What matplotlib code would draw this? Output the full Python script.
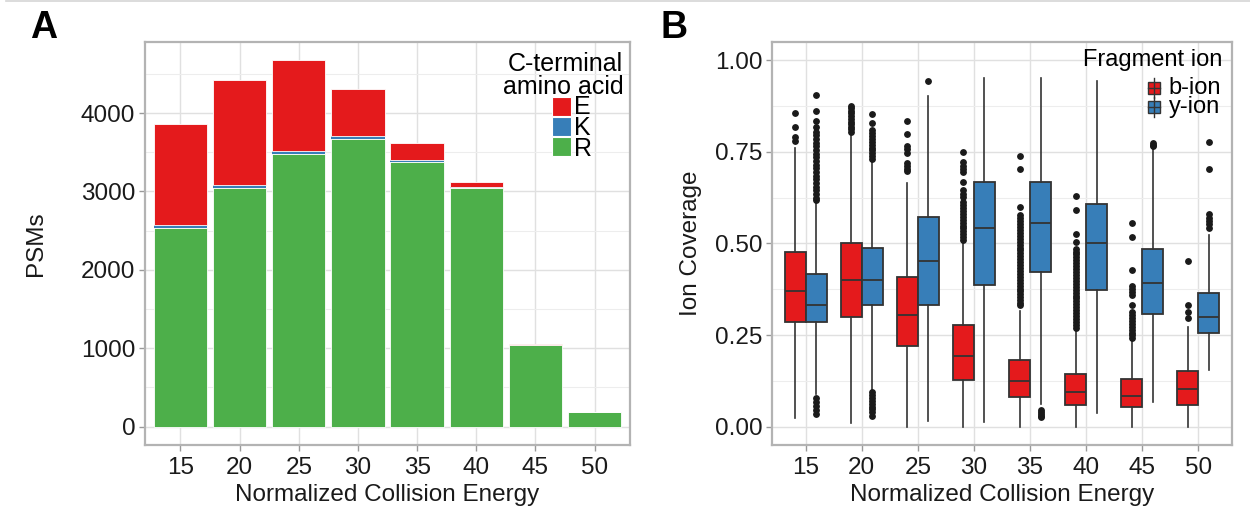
import matplotlib

matplotlib.use("Agg")

import matplotlib.pyplot as plt
from matplotlib.lines import Line2D
from matplotlib.patches import Rectangle

plt.rcParams["font.family"] = ["Liberation Sans", "DejaVu Sans"]

energies = [15, 20, 25, 30, 35, 40, 45, 50]

# panel A: PSM counts by C-terminal residue
psm_R = [2540, 3039, 3475, 3674, 3382, 3050, 1046, 190]
psm_K = [30, 47, 38, 34, 25, 6, 2, 0]
psm_E = [1286, 1333, 1160, 601, 208, 59, 10, 0]

# panel B: ion coverage box stats
b_q1 = [0.285, 0.299, 0.221, 0.127, 0.082, 0.059, 0.053, 0.060]
b_med = [0.370, 0.400, 0.305, 0.192, 0.125, 0.095, 0.083, 0.102]
b_q3 = [0.476, 0.500, 0.409, 0.278, 0.182, 0.143, 0.129, 0.151]
b_lo = [0.023, 0.011, 0.0, 0.0, 0.0, 0.0, 0.0, 0.0]
b_hi = [0.761, 0.800, 0.666, 0.500, 0.316, 0.260, 0.233, 0.271]
b_out = [
    [0.857, 0.817, 0.792, 0.779],
    [0.805, 0.812, 0.818, 0.825, 0.832, 0.840, 0.848, 0.855, 0.862, 0.870, 0.876],
    [0.833, 0.799, 0.767, 0.758, 0.748, 0.720, 0.712, 0.704, 0.697],
    [0.749, 0.722, 0.712, 0.702, 0.695, 0.668, 0.645, 0.636, 0.627, 0.613, 0.605,
     0.597, 0.589, 0.581, 0.573, 0.565, 0.557, 0.549, 0.541, 0.533, 0.525, 0.517, 0.509],
    [0.740, 0.704, 0.600, 0.577, 0.569, 0.561, 0.553, 0.545, 0.537, 0.529, 0.521,
     0.513, 0.505, 0.497, 0.489, 0.481, 0.473, 0.465, 0.457, 0.449, 0.441, 0.433,
     0.425, 0.417, 0.409, 0.401, 0.393, 0.385, 0.377, 0.369, 0.361, 0.353, 0.345,
     0.338, 0.332],
    [0.630, 0.592, 0.525, 0.505, 0.486, 0.478, 0.470, 0.462, 0.454, 0.446, 0.438,
     0.430, 0.422, 0.414, 0.406, 0.398, 0.390, 0.382, 0.374, 0.366, 0.358, 0.350,
     0.342, 0.334, 0.326, 0.318, 0.310, 0.302, 0.294, 0.286, 0.278, 0.270],
    [0.556, 0.518, 0.429, 0.384, 0.376, 0.368, 0.360, 0.332, 0.312, 0.304, 0.296,
     0.288, 0.280, 0.272, 0.264, 0.256, 0.249, 0.243],
    [0.453, 0.332, 0.314, 0.296],
]

y_q1 = [0.285, 0.332, 0.332, 0.388, 0.421, 0.374, 0.307, 0.255]
y_med = [0.332, 0.400, 0.453, 0.542, 0.556, 0.500, 0.391, 0.299]
y_q3 = [0.416, 0.489, 0.572, 0.667, 0.667, 0.607, 0.486, 0.364]
y_lo = [0.090, 0.097, 0.015, 0.014, 0.061, 0.038, 0.067, 0.154]
y_hi = [0.610, 0.725, 0.903, 0.951, 0.951, 0.944, 0.760, 0.523]
y_out = [
    [0.905, 0.861, 0.833, 0.817, 0.805, 0.795, 0.785, 0.775, 0.765, 0.755, 0.745,
     0.735, 0.725, 0.715, 0.705, 0.695, 0.685, 0.675, 0.665, 0.655, 0.645, 0.635,
     0.625, 0.618, 0.079, 0.068, 0.057, 0.046, 0.034],
    [0.853, 0.830, 0.810, 0.802, 0.794, 0.786, 0.778, 0.770, 0.762, 0.754, 0.746,
     0.738, 0.731, 0.095, 0.087, 0.079, 0.071, 0.063, 0.055, 0.047, 0.039, 0.029],
    [0.944],
    [],
    [0.045, 0.040, 0.035, 0.030, 0.026],
    [],
    [0.765, 0.770, 0.775],
    [0.543, 0.552, 0.561, 0.570, 0.580, 0.704, 0.778],
]

RED = "#E41A1C"
BLUE = "#377EB8"
GREEN = "#4DAF4A"
BORDER = "#B3B3B3"
GRID = "#E0E0E0"
TXT = "#1A1A1A"
FS = 17.5


def style_axes(ax):
    ax.set_facecolor("white")
    ax.set_axisbelow(True)
    ax.grid(which="major", color=GRID, linewidth=1.0)
    ax.grid(which="minor", axis="y", color="#EDEDED", linewidth=0.8)
    for s in ax.spines.values():
        s.set_color(BORDER)
        s.set_linewidth(1.6)
    ax.tick_params(which="major", length=4, width=1.0, color="#999999",
                   labelsize=FS, labelcolor=TXT, pad=3)
    ax.tick_params(which="minor", length=0)
    ax.tick_params(axis="x", pad=5)


fig = plt.figure(figsize=(12.5, 5.19), dpi=100, facecolor="white")
ax1 = fig.add_axes([0.116, 0.1426, 0.388, 0.7765])
ax2 = fig.add_axes([0.6176, 0.1426, 0.368, 0.7765])

# ---- panel A
pos = list(range(1, len(energies) + 1))
bottom_K = psm_R
bottom_E = [r + k for r, k in zip(psm_R, psm_K)]
totals = [e + b for e, b in zip(psm_E, bottom_E)]
ax1.bar(pos, psm_R, width=0.9, color=GREEN, edgecolor="white", linewidth=0.6)
ax1.bar(pos, psm_K, width=0.9, bottom=bottom_K, color=BLUE, edgecolor="none")
ax1.bar(pos, psm_E, width=0.9, bottom=bottom_E, color=RED, edgecolor="white", linewidth=0.6)
style_axes(ax1)
ax1.set_xlim(0.4, len(energies) + 0.6)
ax1.set_ylim(-0.05 * max(totals), 1.05 * max(totals))
ax1.set_xticks(pos)
ax1.set_xticklabels([str(e) for e in energies])
ax1.set_yticks([0, 1000, 2000, 3000, 4000])
ax1.set_yticks([500, 1500, 2500, 3500, 4500], minor=True)
ax1.set_xlabel("Normalized Collision Energy", fontsize=FS, color=TXT, labelpad=3)
ax1.set_ylabel("PSMs", fontsize=FS, color=TXT)
ax1.yaxis.set_label_coords(-0.203, 0.5)

# legend drawn by hand (ggplot-style, title right-aligned)
ax1.text(0.986, 0.975, "C-terminal\namino acid", transform=ax1.transAxes, ha="right",
         va="top", multialignment="right", linespacing=0.93, fontsize=18, color="black")
for col, y0 in [(RED, 0.816), (BLUE, 0.766), (GREEN, 0.716)]:
    ax1.add_patch(Rectangle((0.839, y0), 0.039, 0.047, transform=ax1.transAxes,
                            facecolor=col, edgecolor="white", linewidth=0.8, clip_on=False))
ax1.text(0.885, 0.8685, "E\nK\nR", transform=ax1.transAxes, ha="left", va="top",
         linespacing=0.85, fontsize=18, color="black")

# ---- panel B
box_w = 0.375
stats_b = []
stats_y = []
for i in range(len(energies)):
    stats_b.append(dict(q1=b_q1[i], med=b_med[i], q3=b_q3[i], whislo=b_lo[i],
                        whishi=b_hi[i], fliers=b_out[i]))
    stats_y.append(dict(q1=y_q1[i], med=y_med[i], q3=y_q3[i], whislo=y_lo[i],
                        whishi=y_hi[i], fliers=y_out[i]))

for stats, col, off in [(stats_b, RED, -box_w / 2), (stats_y, BLUE, box_w / 2)]:
    ax2.bxp(
        stats,
        positions=[p + off for p in pos],
        widths=box_w,
        patch_artist=True,
        showcaps=False,
        manage_ticks=False,
        boxprops=dict(facecolor=col, edgecolor="#333333", linewidth=1.3),
        medianprops=dict(color="#333333", linewidth=1.3),
        whiskerprops=dict(color="#333333", linewidth=1.2),
        flierprops=dict(marker="o", markersize=3.9, markerfacecolor="#1A1A1A",
                        markeredgecolor="#1A1A1A", linestyle="none"),
    )

style_axes(ax2)
ax2.set_xlim(0.4, len(energies) + 0.6)
ax2.set_ylim(-0.05, 1.05)
ax2.set_xticks(pos)
ax2.set_xticklabels([str(e) for e in energies])
ax2.set_yticks([0, 0.25, 0.5, 0.75, 1.0])
ax2.set_yticklabels(["0.00", "0.25", "0.50", "0.75", "1.00"])
ax2.set_yticks([0.125, 0.375, 0.625, 0.875], minor=True)
ax2.set_xlabel("Normalized Collision Energy", fontsize=FS, color=TXT, labelpad=3)
ax2.set_ylabel("Ion Coverage", fontsize=FS, color=TXT)
ax2.yaxis.set_label_coords(-0.153, 0.5)

ax2.text(0.978, 0.955, "Fragment ion", transform=ax2.transAxes, ha="right",
         va="center", fontsize=17, color="black")
for col, yc in [(RED, 0.886), (BLUE, 0.839)]:
    ax2.add_line(Line2D([0.830, 0.830], [yc - 0.024, yc + 0.024], transform=ax2.transAxes,
                        color="#333333", linewidth=1.0, clip_on=False))
    ax2.add_patch(Rectangle((0.817, yc - 0.014), 0.026, 0.028, transform=ax2.transAxes,
                            facecolor=col, edgecolor="#333333", linewidth=1.0, clip_on=False))
    ax2.add_line(Line2D([0.817, 0.843], [yc, yc], transform=ax2.transAxes,
                        color="#333333", linewidth=1.0, clip_on=False))
ax2.text(0.862, 0.9134, "b-ion\ny-ion", transform=ax2.transAxes, ha="left", va="top",
         linespacing=0.83, fontsize=17, color="black")

# panel letters and top rule
fig.text(0.035, 0.946, "A", fontsize=27, fontweight="bold", ha="center", va="center")
fig.text(0.539, 0.946, "B", fontsize=27, fontweight="bold", ha="center", va="center")
fig.add_artist(Line2D([0.005, 1.0], [0.998, 0.998], transform=fig.transFigure,
                      color="#D5D5D5", linewidth=1.2))

fig.savefig("out.png", dpi=100, facecolor="white")
plt.close(fig)
